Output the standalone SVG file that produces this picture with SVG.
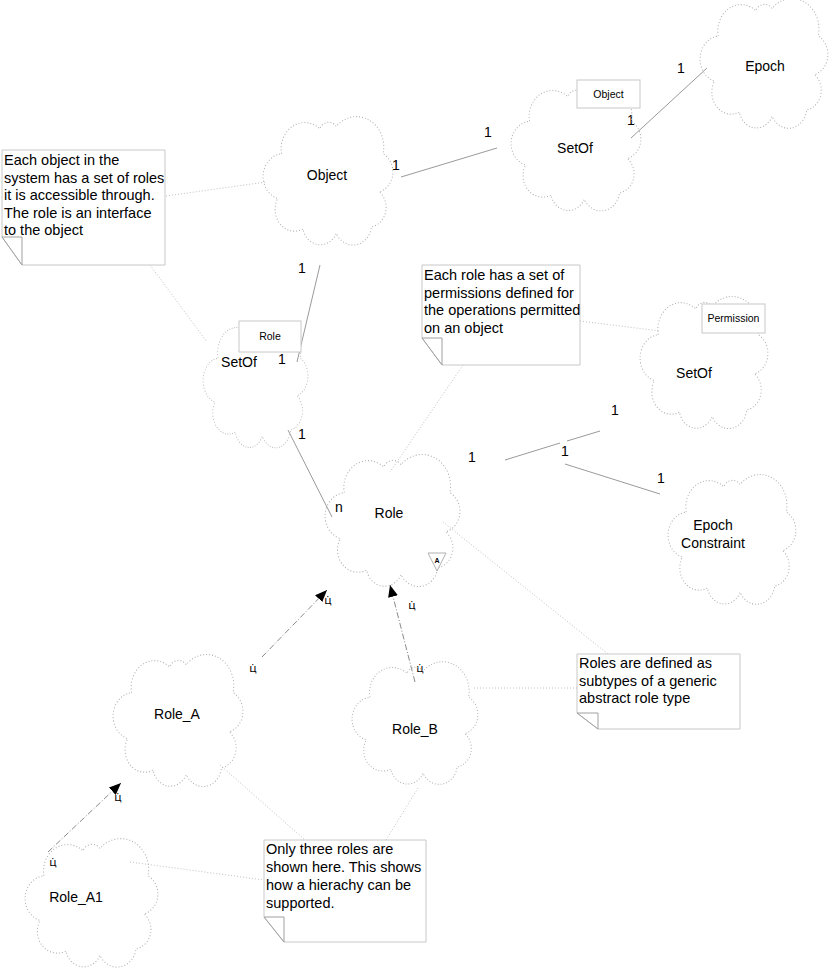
<svg xmlns="http://www.w3.org/2000/svg" xmlns:xlink="http://www.w3.org/1999/xlink" width="830" height="972" viewBox="0 0 830 972">
<style>
.cloud{fill:none;stroke:#b0b0b0;stroke-width:1;stroke-dasharray:1 2;vector-effect:non-scaling-stroke}
.lbl{font-family:"Liberation Sans",Arial,sans-serif;font-size:14px;fill:#000;text-anchor:middle}
.ntxt{font-family:"Liberation Sans",Arial,sans-serif;font-size:14.5px;fill:#000}
.small{font-family:"Liberation Sans",Arial,sans-serif;font-size:10.5px;fill:#000;text-anchor:middle}
.mult{font-family:"Liberation Sans",Arial,sans-serif;font-size:14px;fill:#000}
.box{fill:#fff;stroke:#c8c8c8;stroke-width:1}
.note{fill:#fff;stroke:#c8c8c8;stroke-width:1}
.fold{fill:none;stroke:#a0a0a0;stroke-width:1}
.assoc{stroke:#9a9a9a;stroke-width:1;fill:none}
.anchor{stroke:#c0c0c0;stroke-width:1;stroke-dasharray:1 2;fill:none}
.gen{stroke:#8a8a8a;stroke-width:1;stroke-dasharray:6 2 1 2;fill:none;marker-end:url(#tri)}
.st{font-family:"DejaVu Sans",sans-serif;font-size:11px;fill:#000;text-anchor:middle}
</style>
<defs>
<path id="cl" d="M19,31 A24 24 0 0 1 58,8 A10 10 0 0 1 75,6 A28 28 0 0 1 123,31 A19 19 0 0 1 119,66 A18 18 0 0 1 111,98 A19 19 0 0 1 75,104 A18 18 0 0 1 41,100 A20 20 0 0 1 15,72 A21 21 0 0 1 19,31 Z"/>
<marker id="tri" viewBox="0 0 12 10" refX="12" refY="5" markerWidth="12" markerHeight="10" markerUnits="userSpaceOnUse" orient="auto">
<path d="M0,0 L12,5 L0,10 Z" fill="#000"/>
</marker>
</defs>
<rect width="830" height="972" fill="#fff"/>

<g id="connectors">
<line class="assoc" x1="401" y1="177" x2="497" y2="148"/>
<line class="assoc" x1="631" y1="138" x2="707" y2="68"/>
<line class="assoc" x1="320" y1="265" x2="297" y2="362"/>
<line class="assoc" x1="288" y1="430" x2="332" y2="517"/>
<line class="assoc" x1="505" y1="460" x2="560" y2="443"/>
<line class="assoc" x1="567" y1="441" x2="600" y2="431"/>
<line class="assoc" x1="565" y1="464" x2="660" y2="494"/>
<line class="anchor" x1="166" y1="196" x2="266" y2="182"/>
<line class="anchor" x1="150" y1="265" x2="207" y2="342"/>
<line class="anchor" x1="580" y1="321" x2="660" y2="331"/>
<line class="anchor" x1="463" y1="365" x2="390" y2="472"/>
<line class="anchor" x1="443" y1="522" x2="608" y2="654"/>
<line class="anchor" x1="474" y1="688" x2="577" y2="688"/>
<line class="anchor" x1="220" y1="765" x2="305" y2="840"/>
<line class="anchor" x1="418" y1="788" x2="386" y2="840"/>
<line class="anchor" x1="130" y1="862" x2="264" y2="880"/>
<line class="gen" x1="48" y1="852" x2="121" y2="783"/>
<line class="gen" x1="262" y1="657" x2="327" y2="590"/>
<line class="gen" x1="415" y1="682" x2="390" y2="585"/>
<text class="mult" x="392" y="170">1</text>
<text class="mult" x="484" y="137">1</text>
<text class="mult" x="627" y="125">1</text>
<text class="mult" x="677" y="73">1</text>
<text class="mult" x="298" y="273">1</text>
<text class="mult" x="278" y="364">1</text>
<text class="mult" x="298" y="439">1</text>
<text class="mult" x="335" y="512">n</text>
<text class="mult" x="468" y="462">1</text>
<text class="mult" x="611" y="415">1</text>
<text class="mult" x="561" y="456">1</text>
<text class="mult" x="657" y="483">1</text>
<text class="st" x="53" y="866">ц̇</text>
<text class="st" x="118" y="801">ц̇</text>
<text class="st" x="253" y="672">ц̇</text>
<text class="st" x="328" y="604">ц̇</text>
<text class="st" x="412" y="609">ц̇</text>
<text class="st" x="420" y="672">ц̇</text>
</g>

<g id="note1">
<path class="note" d="M2,150 H165 V265 H22 L2,237 Z"/>
<path class="fold" d="M2,237 H22 V265 Z"/>
<text class="ntxt" x="4" y="165">Each object in the</text>
<text class="ntxt" x="4" y="182.5">system has a set of roles</text>
<text class="ntxt" x="4" y="200">it is accessible through.</text>
<text class="ntxt" x="4" y="217.5">The role is an interface</text>
<text class="ntxt" x="4" y="235">to the object</text>
</g>

<g id="note2">
<path class="note" d="M422,265 H580 V365 H442 L422,338 Z"/>
<path class="fold" d="M422,338 H442 V365 Z"/>
<text class="ntxt" x="424" y="280">Each role has a set of</text>
<text class="ntxt" x="424" y="297.5">permissions defined for</text>
<text class="ntxt" x="424" y="315">the operations permitted</text>
<text class="ntxt" x="424" y="332.5">on an object</text>
</g>

<g id="note3">
<path class="note" d="M577,654 H740 V729 H598 L577,713 Z"/>
<path class="fold" d="M577,713 H598 V729 Z"/>
<text class="ntxt" x="579" y="668">Roles are defined as</text>
<text class="ntxt" x="579" y="685.5">subtypes of a generic</text>
<text class="ntxt" x="579" y="703">abstract role type</text>
</g>

<g id="note4">
<path class="note" d="M264,840 H426 V942 H284 L264,917 Z"/>
<path class="fold" d="M264,917 H284 V942 Z"/>
<text class="ntxt" x="266" y="854">Only three roles are</text>
<text class="ntxt" x="266" y="872">shown here. This shows</text>
<text class="ntxt" x="266" y="890">how a hierachy can be</text>
<text class="ntxt" x="266" y="908">supported.</text>
</g>

<g id="object">
<use xlink:href="#cl" class="cloud" transform="translate(263,120) scale(0.977,1.09)"/>
<text class="lbl" x="327" y="180">Object</text>
</g>

<g id="setof-object">
<use xlink:href="#cl" class="cloud" transform="translate(511,88) scale(0.977,1.07)"/>
<rect class="box" x="577" y="80" width="63" height="28"/>
<text class="small" x="608.5" y="98">Object</text>
<text class="lbl" x="575" y="153">SetOf</text>
</g>

<g id="epoch">
<use xlink:href="#cl" class="cloud" transform="translate(700,2) scale(0.962,1.1)"/>
<text class="lbl" x="765" y="71">Epoch</text>
</g>

<g id="setof-role">
<use xlink:href="#cl" class="cloud" transform="translate(203,325) scale(0.79,1.07)"/>
<rect class="box" x="239" y="321" width="62" height="31"/>
<text class="small" x="270" y="340">Role</text>
<text class="lbl" x="239" y="367">SetOf</text>
</g>

<g id="setof-permission">
<use xlink:href="#cl" class="cloud" transform="translate(640,300) scale(0.962,1.12)"/>
<rect class="box" x="702" y="304" width="63" height="29"/>
<text class="small" x="733.5" y="322">Permission</text>
<text class="lbl" x="694" y="378">SetOf</text>
</g>

<g id="role">
<use xlink:href="#cl" class="cloud" transform="translate(325,458) scale(1.015,1.12)"/>
<text class="lbl" x="389" y="518">Role</text>
<polygon points="428,553 446,553 437,571" fill="#fff" stroke="#b0b0b0"/>
<text x="437" y="563" font-family="Liberation Sans, Arial, sans-serif" font-size="7" font-weight="bold" text-anchor="middle">A</text>
</g>

<g id="epoch-constraint">
<use xlink:href="#cl" class="cloud" transform="translate(668,478) scale(0.962,1.1)"/>
<text class="lbl" x="713" y="530">Epoch</text>
<text class="lbl" x="713" y="548">Constraint</text>
</g>

<g id="role-a">
<use xlink:href="#cl" class="cloud" transform="translate(113,658) scale(0.977,1.12)"/>
<text class="lbl" x="177" y="719">Role_A</text>
</g>

<g id="role-b">
<use xlink:href="#cl" class="cloud" transform="translate(352,665) scale(0.947,1.04)"/>
<text class="lbl" x="415" y="734">Role_B</text>
</g>

<g id="role-a1">
<use xlink:href="#cl" class="cloud" transform="translate(25,842) scale(1.0,1.09)"/>
<text class="lbl" x="76" y="902">Role_A1</text>
</g>
</svg>
